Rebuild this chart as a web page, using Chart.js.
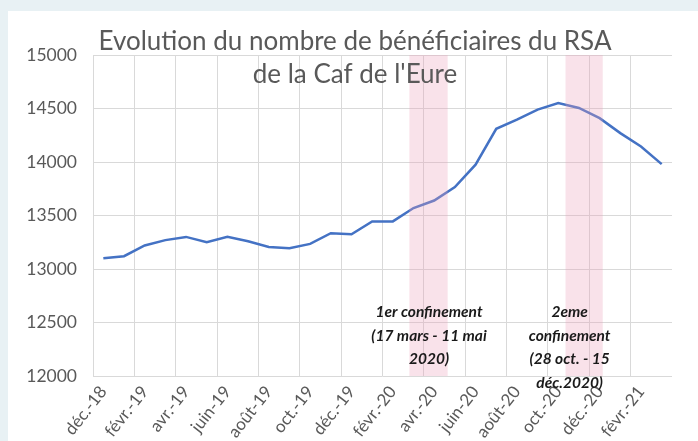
<!DOCTYPE html>
<html lang="fr">
<head>
<meta charset="UTF-8" />
<title>Bénéficiaires du RSA - Caf de l'Eure</title>
<script src="https://cdn.jsdelivr.net/npm/chart.js"></script>
<style>
    body {
        margin: 0;
        background: #e8f1f4;
    }
    .panel {
        position: absolute;
        left: 8px;
        top: 11px;
        width: 690px;
        height: 430px;
        background: #fff;
    }
</style>
</head>
<body>
<div class="panel"><canvas id="rsaChart" width="690" height="430"></canvas></div>
<script>
    const months = ['déc.-18', 'janv.-19', 'févr.-19', 'mars-19', 'avr.-19', 'mai-19', 'juin-19', 'juil.-19',
        'août-19', 'sept.-19', 'oct.-19', 'nov.-19', 'déc.-19', 'janv.-20', 'févr.-20', 'mars-20', 'avr.-20',
        'mai-20', 'juin-20', 'juil.-20', 'août-20', 'sept.-20', 'oct.-20', 'nov.-20', 'déc.-20', 'janv.-21',
        'févr.-21', 'mars-21'];
    const beneficiaires = [13100, 13120, 13220, 13270, 13300, 13250, 13300, 13260,
        13205, 13195, 13235, 13335, 13325, 13445, 13445, 13570, 13640,
        13765, 13975, 14310, 14395, 14490, 14550, 14505, 14410, 14270,
        14145, 13980];

    const titleLines = ["Evolution du nombre de bénéficiaires du RSA", "de la Caf de l'Eure"];

    // périodes de confinement, en position de mois (index décimal)
    const confStart = [14.8, 22.35];
    const confEnd = [16.65, 24.15];
    const confLabels = [
        ["1er confinement", "(17 mars - 11 mai", "2020)"],
        ["2eme", "confinement", "(28 oct. - 15", "déc.2020)"]
    ];
    const confLabelAt = [15.75, 22.55];
    const confLabelTop = 12595;

    const grey = '#595959';
    const gridGrey = '#d9d9d9';

    const confinements = {
        id: 'confinements',
        afterDatasetsDraw(chart) {
            const {ctx, chartArea, scales} = chart;
            ctx.save();
            ctx.fillStyle = 'rgba(235, 160, 185, 0.3)';
            confStart.forEach((s, i) => {
                const x1 = scales.x.getPixelForValue(s);
                const x2 = scales.x.getPixelForValue(confEnd[i]);
                ctx.fillRect(x1, chartArea.top, x2 - x1, chartArea.bottom - chartArea.top);
            });
            ctx.restore();
        },
        afterDraw(chart) {
            const {ctx, scales} = chart;
            ctx.save();
            ctx.fillStyle = grey;
            ctx.textAlign = 'center';
            ctx.textBaseline = 'alphabetic';
            ctx.font = '26px Lato';
            ctx.fillText(titleLines[0], 347, 39);
            ctx.fillText(titleLines[1], 347, 72);

            ctx.fillStyle = '#1a1a1a';
            ctx.font = 'italic bold 15.5px Lato';
            ctx.textBaseline = 'middle';
            confLabels.forEach((lines, i) => {
                const x = scales.x.getPixelForValue(confLabelAt[i]);
                const y = scales.y.getPixelForValue(confLabelTop);
                lines.forEach((l, j) => ctx.fillText(l, x, y + j * 23.5));
            });
            ctx.restore();
        }
    };

    new Chart(document.getElementById('rsaChart'), {
        type: 'line',
        data: {
            labels: months,
            datasets: [{
                data: beneficiaires,
                borderColor: '#4472c4',
                borderWidth: 2.5,
                pointRadius: 0,
                tension: 0,
                fill: false
            }]
        },
        options: {
            responsive: false,
            animation: false,
            layout: {padding: {top: 44, right: 26, left: 0, bottom: 0}},
            plugins: {
                legend: {display: false},
                tooltip: {enabled: false}
            },
            scales: {
                x: {
                    offset: true,
                    afterFit: s => { s.height = 65; },
                    border: {display: false},
                    grid: {
                        offset: true,
                        drawTicks: false,
                        color: c => c.index % 2 === 0 ? gridGrey : 'transparent'
                    },
                    ticks: {
                        autoSkip: false,
                        maxRotation: 52,
                        minRotation: 52,
                        padding: 6,
                        color: grey,
                        font: {family: 'Lato', size: 17},
                        callback: (v, i) => i % 2 === 0 ? months[i] : ''
                    }
                },
                y: {
                    min: 12000,
                    max: 15000,
                    afterFit: s => { s.width = 85; },
                    border: {display: false},
                    grid: {drawTicks: false, color: gridGrey},
                    ticks: {
                        stepSize: 500,
                        padding: 16,
                        color: grey,
                        font: {family: 'Lato', size: 17.5},
                        callback: v => String(v)
                    }
                }
            }
        },
        plugins: [confinements]
    });
</script>
</body>
</html>
